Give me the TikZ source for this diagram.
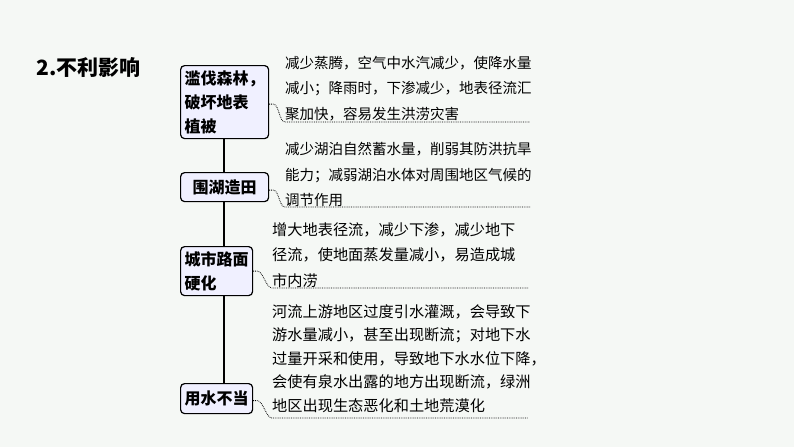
\documentclass[tikz,border=0pt]{standalone}
\usepackage{fontspec}
\newfontfamily\cjk{Noto Sans CJK SC}
\begin{document}
\begin{tikzpicture}[x=1pt,y=-1pt,
  box/.style={draw=black,line width=1.2pt,rounded corners=4pt,fill=blue!6,font=\cjk\bfseries\fontsize{16}{24}\selectfont,align=left,inner sep=3pt,anchor=north west},
  txt/.style={font=\cjk\fontsize{14.5}{25.5}\selectfont,align=left,anchor=north west,inner sep=0pt},
  conn/.style={densely dotted,line width=0.8pt},
  stem/.style={line width=1.2pt}]
\useasboundingbox[fill={rgb,255:red,245;green,248;blue,245}] (0,0) rectangle (794,447);
\node[font=\cjk\bfseries\fontsize{21}{24}\selectfont,anchor=west] (title) at (33,68) {2.不利影响};
\node[box,minimum width=88pt,minimum height=73pt] (b1) at (180,65) {滥伐森林，\\破坏地表\\植被};
\node[box,minimum width=88pt,minimum height=29pt] (b2) at (180,172) {围湖造田};
\node[box,minimum width=72pt,minimum height=49pt] (b3) at (180,246) {城市路面\\硬化};
\node[box,minimum width=72pt,minimum height=30pt] (b4) at (180,383) {用水不当};
\draw[stem] (224,138) -- (224,172);
\draw[stem] (224,201) -- (224,246);
\draw[stem] (224,295) -- (224,383);
\node[txt] (t1) at (285,56) {减少蒸腾，空气中水汽减少，使降水量\\减小；降雨时，下渗减少，地表径流汇\\聚加快，容易发生洪涝灾害};
\node[txt] (t2) at (285,142) {减少湖泊自然蓄水量，削弱其防洪抗旱\\能力；减弱湖泊水体对周围地区气候的\\调节作用};
\node[txt,font=\cjk\fontsize{15.2}{25.5}\selectfont] (t3) at (272,222) {增大地表径流，减少下渗，减少地下\\径流，使地面蒸发量减小，易造成城\\市内涝};
\node[txt,font=\cjk\fontsize{15.2}{23.5}\selectfont] (t4) at (272,304) {河流上游地区过度引水灌溉，会导致下\\游水量减小，甚至出现断流；对地下水\\过量开采和使用，导致地下水水位下降，\\会使有泉水出露的地方出现断流，绿洲\\地区出现生态恶化和土地荒漠化};
\coordinate (e1) at (530,122);
\coordinate (e2) at (530,207);
\coordinate (e3) at (528,288);
\coordinate (e4) at (528,418);
\draw[conn] (b1.east) ++(0,2) -- ++(4,0) .. controls +(6,0) and +(-6,0) .. (285,122) -- (e1);
\draw[conn] (b2.east) ++(0,3) -- ++(4,0) .. controls +(6,0) and +(-6,0) .. (285,207) -- (e2);
\draw[conn] (b3.east) ++(0,0) -- ++(4,0) .. controls +(6,0) and +(-6,0) .. (272,288) -- (e3);
\draw[conn] (b4.east) ++(0,2) -- ++(4,0) .. controls +(6,0) and +(-6,0) .. (272,418) -- (e4);
\end{tikzpicture}
\end{document}
